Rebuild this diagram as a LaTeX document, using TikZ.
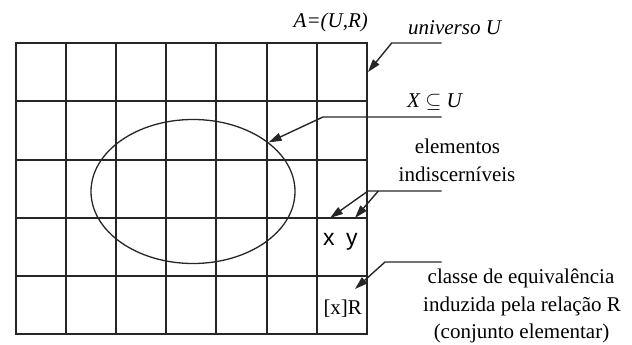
\documentclass[tikz,border=0pt]{standalone}
\usepackage{fontspec}
\setmainfont{Liberation Serif}
\newfontfamily\sansf{Liberation Sans}
\usetikzlibrary{arrows.meta,shapes.geometric}
\begin{document}
\begin{tikzpicture}[x=1pt,y=-1pt,
  gridline/.style={line width=2pt, draw=black!85},
  leader/.style={line width=1.4pt, draw=black!85},
  tipline/.style={leader, -{Triangle[length=13pt,width=8pt]}},
  lbl/.style={inner sep=0pt, font=\fontsize{21}{26}\selectfont},
  sanslbl/.style={inner sep=0pt, font=\sansf\fontsize{23}{26}\selectfont},
]
\useasboundingbox (0,0) rectangle (632,345);
% grid (universe U)
\foreach \x in {16,66,116,166,216,267,317,367} \draw[gridline] (\x,43) -- (\x,334);
\foreach \y in {43,101,160,218,276,334} \draw[gridline] (15,\y) -- (368,\y);
% set X
\node[ellipse, draw=black!85, line width=1.3pt, minimum width=204pt, minimum height=144pt, inner sep=0pt] (X) at (193,191.5) {};
% labels
\node[lbl, anchor=base west] (A) at (293.5,28) {\itshape A=(U,R)};
\node[lbl, anchor=base west] (univ) at (408,35) {\itshape universo U};
\node[lbl, anchor=base west] (sub) at (407,107) {\itshape X \normalfont$\subseteq$ \itshape U};
\node[lbl, anchor=base] (el1) at (457.5,153) {elementos};
\node[lbl, anchor=base] (el2) at (457,181.5) {indiscerníveis};
\node[lbl, anchor=base] (cl1) at (521,283.5) {classe de equivalência};
\node[lbl, anchor=base] (cl2) at (522,311.5) {induzida pela relação R};
\node[lbl, anchor=base] (cl3) at (521.5,338.5) {(conjunto elementar)};
\node[sanslbl, anchor=base west] (xe) at (323,245) {x};
\node[sanslbl, anchor=base west] (ye) at (346,245) {y};
\node[lbl, anchor=base west] (xR) at (323.3,314.3) {[x]R};
% leader coordinates
\coordinate (u0) at (441.7,43);
\coordinate (u1) at (391.7,43);
\coordinate (uT) at (368,72);
\coordinate (s0) at (441.7,117);
\coordinate (s1) at (323,117);
\coordinate (e0) at (441.7,191);
\coordinate (e1) at (368,191);
\coordinate (e2) at (378.3,191);
\coordinate (xT) at (330,218);
\coordinate (yT) at (355,218);
\coordinate (c0) at (441.7,262);
\coordinate (c1) at (385,262);
\coordinate (cT) at (355,289);
% connectors
\draw[tipline] (u0) -- (u1) -- (uT);
\draw[tipline] (s0) -- (s1) -- (X.33);
\draw[tipline] (e0) -- (e1) -- (xT);
\draw[tipline] (e2) -- (yT);
\draw[tipline] (c0) -- (c1) -- (cT);
\end{tikzpicture}
\end{document}
